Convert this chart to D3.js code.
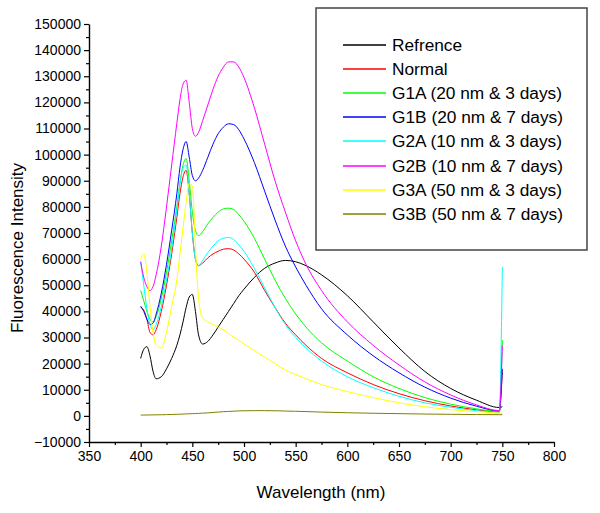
<!DOCTYPE html>
<html>
<head>
<meta charset="utf-8">
<script src="https://cdn.jsdelivr.net/npm/d3@7/dist/d3.min.js"></script>
<style>
	body { margin: 0; background: #fff; }
	svg text { font-family: "Liberation Sans", Arial, sans-serif; fill: #000; }
</style>
</head>
<body>
<svg id="chart" width="600" height="513"></svg>
<script>
// wavelength grid (nm), shared by all series
var wavelengths = [400, 403, 406, 409, 412, 415, 420, 425, 430, 435, 438, 441, 444, 447, 450, 453, 456,
	460, 465, 470, 475, 480, 485, 490, 495, 500, 510, 520, 530, 540, 550, 560,
	575, 600, 625, 650, 675, 700, 725, 747, 750];

var refrence = [22000, 25500, 26500, 23000, 17000, 14200, 15000, 18000, 22000, 27000, 31000, 36000, 41500, 45500, 46500, 40000, 31000,
	27500, 28500, 31000, 34000, 37000, 40000, 43000, 46000, 48500, 53000, 56500, 58500, 59500, 59000, 57500,
	54000, 46000, 36000, 26000, 17000, 10500, 6000, 3200, 3500];
var normal = [41500, 40500, 37000, 32000, 31000, 33000, 40000, 50000, 62000, 76000, 85000, 91500, 94000, 85000, 70000, 60000, 57500,
	58500, 60500, 62000, 63000, 63800, 64000, 63500, 62000, 60000, 55000, 48000, 41500, 35500, 31000, 27000,
	22000, 16500, 12000, 8500, 5800, 3800, 2300, 1500, 17000];
var g1a = [48000, 44000, 40000, 37000, 36000, 38000, 45000, 55000, 67000, 80000, 89000, 96000, 98500, 90000, 78000, 71000, 69000,
	70500, 73500, 76000, 78000, 79200, 79500, 79000, 77000, 74500, 68000, 60000, 52000, 45000, 39000, 34000,
	28000, 21000, 15000, 10500, 7000, 4500, 2700, 1700, 29000];
var g1b = [42000, 40000, 37000, 35000, 35500, 39000, 47000, 58000, 71000, 85000, 95000, 102000, 105000, 99000, 92000, 90000, 91000,
	94000, 99000, 104000, 108000, 110500, 111800, 111500, 109500, 106000, 97000, 86000, 75000, 65000, 57000, 50000,
	41000, 31000, 23000, 16500, 11000, 6800, 3700, 1900, 18000];
var g2a = [59000, 50000, 41000, 35000, 33000, 35000, 42000, 52000, 64000, 79000, 89000, 95000, 96000, 85000, 70000, 60000, 57500,
	59500, 62500, 65000, 67000, 68000, 68300, 67500, 65500, 63000, 56500, 49000, 41500, 35000, 30000, 26000,
	21000, 15000, 10800, 7500, 5000, 3300, 2000, 1300, 57000];
var g2b = [59000, 53000, 49500, 48000, 49500, 54000, 65000, 80000, 96000, 112000, 121000, 127000, 128500, 120000, 110000, 107000, 108500,
	113000, 119000, 125000, 130000, 133500, 135500, 135500, 133500, 129500, 118000, 104000, 90000, 78000, 67000, 58000,
	48000, 36000, 27000, 19500, 13000, 8000, 4200, 2000, 27000];
var g3a = [60000, 62000, 55000, 42000, 32000, 27000, 26000, 32000, 42000, 52000, 62000, 72000, 82000, 89000, 88000, 65000, 45000,
	37500, 36000, 35000, 34000, 33000, 31500, 30000, 29000, 27500, 25000, 22500, 20000, 17500, 15800, 14200,
	12000, 9300, 7000, 5000, 3500, 2400, 1600, 1100, 1000];
var g3b = [300, 320, 340, 360, 380, 400, 430, 480, 540, 600, 650, 700, 750, 800, 850, 900, 950,
	1050, 1150, 1300, 1450, 1600, 1700, 1800, 1900, 1950, 2000, 2000, 1950, 1850, 1750, 1650,
	1450, 1200, 1000, 850, 700, 600, 500, 450, 450];

var seriesNames = ["Refrence", "Normal", "G1A (20 nm & 3 days)", "G1B (20 nm & 7 days)",
	"G2A (10 nm & 3 days)", "G2B (10 nm & 7 days)", "G3A (50 nm & 3 days)", "G3B (50 nm & 7 days)"];
var seriesColors = ["#000000", "#ff0000", "#00ff00", "#0000ff", "#00ffff", "#ff00ff", "#ffff00", "#808000"];
var seriesValues = [refrence, normal, g1a, g1b, g2a, g2b, g3a, g3b];

var xTicks = [350, 400, 450, 500, 550, 600, 650, 700, 750, 800];
var yTicks = d3.range(-10000, 150001, 10000);

var svg = d3.select("#chart");

var x = d3.scaleLinear().domain([350, 800]).range([89, 554]);
var y = d3.scaleLinear().domain([-10000, 150000]).range([442, 24]);

// series, drawn in order so later ones sit on top
var line = d3.line()
	.x(function (d) { return x(d[0]); })
	.y(function (d) { return y(d[1]); })
	.curve(d3.curveMonotoneX);

var plot = svg.append("g");
seriesValues.forEach(function (vals, i) {
	var pts = wavelengths.map(function (w, j) { return [w, vals[j]]; });
	plot.append("path")
	.attr("d", line(pts))
	.style("fill", "none")
	.style("stroke", seriesColors[i])
	.style("stroke-width", 1);
});

// minor ticks
svg.append("g")
.attr("transform", "translate(0,442)")
.call(d3.axisBottom(x).tickValues(d3.range(375, 800, 50)).tickSize(3).tickFormat(""))
.call(function (g) { g.select(".domain").remove(); });

svg.append("g")
.attr("transform", "translate(89,0)")
.call(d3.axisLeft(y).tickValues(d3.range(-5000, 150000, 10000)).tickSize(3).tickFormat(""))
.call(function (g) { g.select(".domain").remove(); });

// major axes
var xAxis = svg.append("g")
.attr("transform", "translate(0,442)")
.call(d3.axisBottom(x).tickValues(xTicks).tickSize(5).tickSizeOuter(0).tickPadding(4));

var yAxis = svg.append("g")
.attr("transform", "translate(89,0)")
.call(d3.axisLeft(y).tickValues(yTicks).tickSize(5).tickSizeOuter(0).tickPadding(3)
	.tickFormat(d3.format("d")));

svg.selectAll(".domain").style("stroke-width", 1.4);
svg.selectAll(".tick line").style("stroke-width", 1.2);
svg.selectAll(".tick text")
.style("font-family", "Liberation Sans, Arial, sans-serif")
.style("font-size", "14px");

// axis titles
svg.append("text")
.attr("x", 321)
.attr("y", 498)
.style("text-anchor", "middle")
.style("font-size", "17px")
.text("Wavelength (nm)");

svg.append("text")
.attr("transform", "translate(23,248) rotate(-90)")
.style("text-anchor", "middle")
.style("font-size", "17px")
.text("Fluorescence Intensity");

// legend
var legend = svg.append("g");
legend.append("rect")
.attr("x", 316)
.attr("y", 8)
.attr("width", 271)
.attr("height", 242)
.style("fill", "#fff")
.style("stroke", "#444")
.style("stroke-width", 1.5);

seriesNames.forEach(function (name, i) {
	// keep the sample line across two pixel rows so its colour survives
	var ly = Math.round(45 + i * 24.1);
	legend.append("line")
	.attr("x1", 343)
	.attr("x2", 386)
	.attr("y1", ly)
	.attr("y2", ly)
	.style("stroke", seriesColors[i])
	.style("stroke-width", 1.3);

	legend.append("text")
	.attr("x", 392)
	.attr("y", ly)
	.attr("dy", "0.35em")
	.style("font-size", "17.3px")
	.text(name);
});
</script>
</body>
</html>
